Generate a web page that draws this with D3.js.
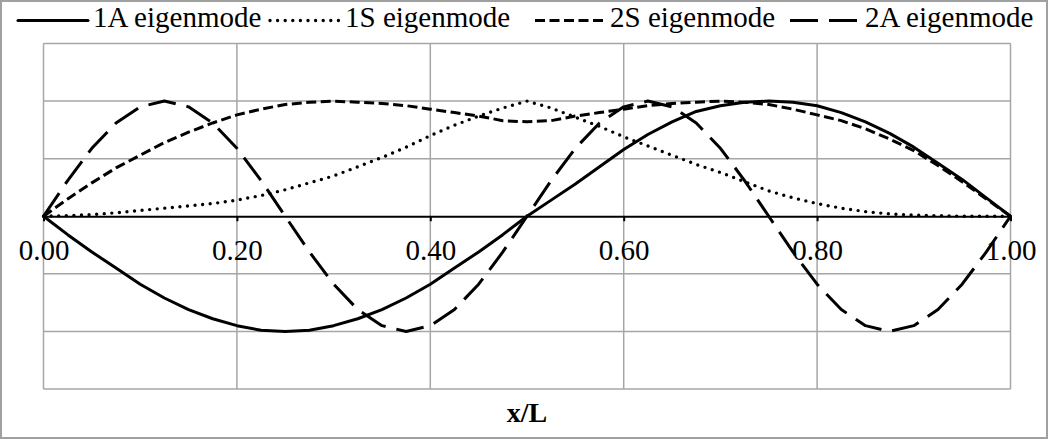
<!DOCTYPE html>
<html>
<head>
<meta charset="utf-8">
<script src="https://cdn.jsdelivr.net/npm/d3@7"></script>
<style>
  html, body { margin: 0; padding: 0; background: #fff; }
  svg { display: block; }
  text { font-family: "Liberation Serif", "Times New Roman", serif; fill: #000; }
</style>
</head>
<body>
<svg id="chart" width="1048" height="439"></svg>
<script>
// Positions along the span, x/L
const xValues = [0, 0.025, 0.05, 0.075, 0.1, 0.125, 0.15, 0.175, 0.2, 0.225, 0.25, 0.275, 0.3, 0.325, 0.35, 0.375, 0.4, 0.425, 0.45, 0.475, 0.5,
  0.525, 0.55, 0.575, 0.6, 0.625, 0.65, 0.675, 0.7, 0.725, 0.75, 0.775, 0.8, 0.825, 0.85, 0.875, 0.9, 0.925, 0.95, 0.975, 1];

// Normalised mode shapes
const mode1A = [0, -0.16, -0.31, -0.45, -0.59, -0.71, -0.81, -0.89, -0.95, -0.99, -1.00, -0.99, -0.95, -0.89, -0.81, -0.71, -0.59, -0.45, -0.31, -0.16, 0.00,
  0.14, 0.28, 0.43, 0.58, 0.71, 0.82, 0.91, 0.96, 0.99, 1.00, 0.99, 0.96, 0.90, 0.82, 0.72, 0.60, 0.46, 0.32, 0.16, 0];
const mode1S = [0, 0.005, 0.015, 0.03, 0.05, 0.07, 0.09, 0.11, 0.14, 0.18, 0.23, 0.29, 0.35, 0.43, 0.51, 0.60, 0.70, 0.79, 0.87, 0.94, 1.00,
  0.94, 0.86, 0.78, 0.69, 0.61, 0.53, 0.45, 0.38, 0.30, 0.22, 0.16, 0.11, 0.07, 0.04, 0.02, 0.01, 0.005, 0, 0, 0];
const mode2S = [0, 0.15, 0.29, 0.42, 0.53, 0.64, 0.73, 0.81, 0.88, 0.93, 0.97, 0.99, 1.00, 0.99, 0.98, 0.96, 0.93, 0.90, 0.87, 0.83, 0.82,
  0.83, 0.87, 0.90, 0.93, 0.96, 0.98, 0.99, 1.00, 0.99, 0.97, 0.93, 0.88, 0.83, 0.76, 0.67, 0.57, 0.44, 0.30, 0.15, 0];
const mode2A = [0, 0.31, 0.59, 0.81, 0.95, 1.00, 0.95, 0.81, 0.59, 0.31, 0.00, -0.31, -0.59, -0.81, -0.95, -1.00, -0.95, -0.81, -0.59, -0.31, 0.00,
  0.31, 0.59, 0.81, 0.95, 1.00, 0.95, 0.81, 0.59, 0.31, 0.00, -0.31, -0.59, -0.81, -0.95, -1.00, -0.95, -0.81, -0.59, -0.31, 0];

const seriesNames = ["1A eigenmode", "1S eigenmode", "2S eigenmode", "2A eigenmode"];
const xTicks = [0, 0.2, 0.4, 0.6, 0.8, 1.0];
const yGrid = [-1.5, -1, -0.5, 0.5, 1, 1.5];
const xTitle = "x/L";

const series = [
  { name: seriesNames[0], values: mode1A, dash: null, cap: "round", width: 3 },
  { name: seriesNames[1], values: mode1S, dash: "0,7.6", cap: "round", width: 3.4 },
  { name: seriesNames[2], values: mode2S, dash: "10,4.5", cap: "butt", width: 3 },
  { name: seriesNames[3], values: mode2A, dash: "28,11", cap: "butt", width: 3 }
];

const svg = d3.select("#chart");
const W = 1048, H = 439;

// chart-area frame
svg.append("rect")
  .attr("x", 1).attr("y", 1).attr("width", W - 2).attr("height", H - 2)
  .attr("fill", "#fff").attr("stroke", "#a0a0a0").attr("stroke-width", 2);

const plot = { left: 43.5, right: 1010.5, top: 43.5, bottom: 389 };
const x = d3.scaleLinear().domain([0, 1]).range([plot.left, plot.right]);
const y = d3.scaleLinear().domain([-1.5, 1.5]).range([plot.bottom, plot.top]);

// gridlines
const grid = svg.append("g").attr("stroke", "#a6a6a6").attr("stroke-width", 1.5);
grid.selectAll("line.h").data(yGrid).join("line")
  .attr("x1", plot.left).attr("x2", plot.right)
  .attr("y1", d => y(d)).attr("y2", d => y(d));
grid.selectAll("line.v").data(xTicks).join("line")
  .attr("y1", plot.top).attr("y2", plot.bottom)
  .attr("x1", d => x(d)).attr("x2", d => x(d));

// horizontal axis through zero
const axis = d3.axisBottom(x).tickValues(xTicks).tickFormat(d3.format(".2f"))
  .tickSizeInner(5).tickSizeOuter(0).tickPadding(18);
const axisG = svg.append("g").attr("transform", `translate(0,${y(0)})`).call(axis);
axisG.select(".domain").attr("stroke", "#000").attr("stroke-width", 2);
axisG.selectAll(".tick line").attr("stroke", "#000").attr("stroke-width", 2);
axisG.selectAll(".tick text")
  .attr("font-family", "Liberation Serif, serif")
  .attr("font-size", 29).attr("fill", "#000");

// mode shape curves
const line = d3.line()
  .x((d, i) => x(xValues[i]))
  .y(d => y(d));

svg.append("g").selectAll("path").data(series).join("path")
  .attr("d", d => line(d.values))
  .attr("fill", "none")
  .attr("stroke", "#000")
  .attr("stroke-width", d => d.width)
  .attr("stroke-linejoin", "round")
  .attr("stroke-linecap", d => d.cap)
  .attr("stroke-dasharray", d => d.dash);

// legend
const legendX = [18, 270, 535, 790];
const legendY = 20.5;
const leg = svg.append("g");
series.forEach((s, i) => {
  const g = leg.append("g").attr("transform", `translate(${legendX[i]},0)`);
  g.append("line")
    .attr("x1", 0).attr("x2", 70).attr("y1", legendY).attr("y2", legendY)
    .attr("stroke", "#000").attr("stroke-width", s.width)
    .attr("stroke-linecap", s.cap)
    .attr("stroke-dasharray", s.dash);
  g.append("text")
    .attr("x", 75).attr("y", 27)
    .attr("font-size", 29)
    .text(s.name);
});

// axis title
svg.append("text")
  .attr("x", (plot.left + plot.right) / 2).attr("y", 422)
  .attr("text-anchor", "middle")
  .attr("font-size", 28).attr("font-weight", "bold")
  .text(xTitle);
</script>
</body>
</html>
